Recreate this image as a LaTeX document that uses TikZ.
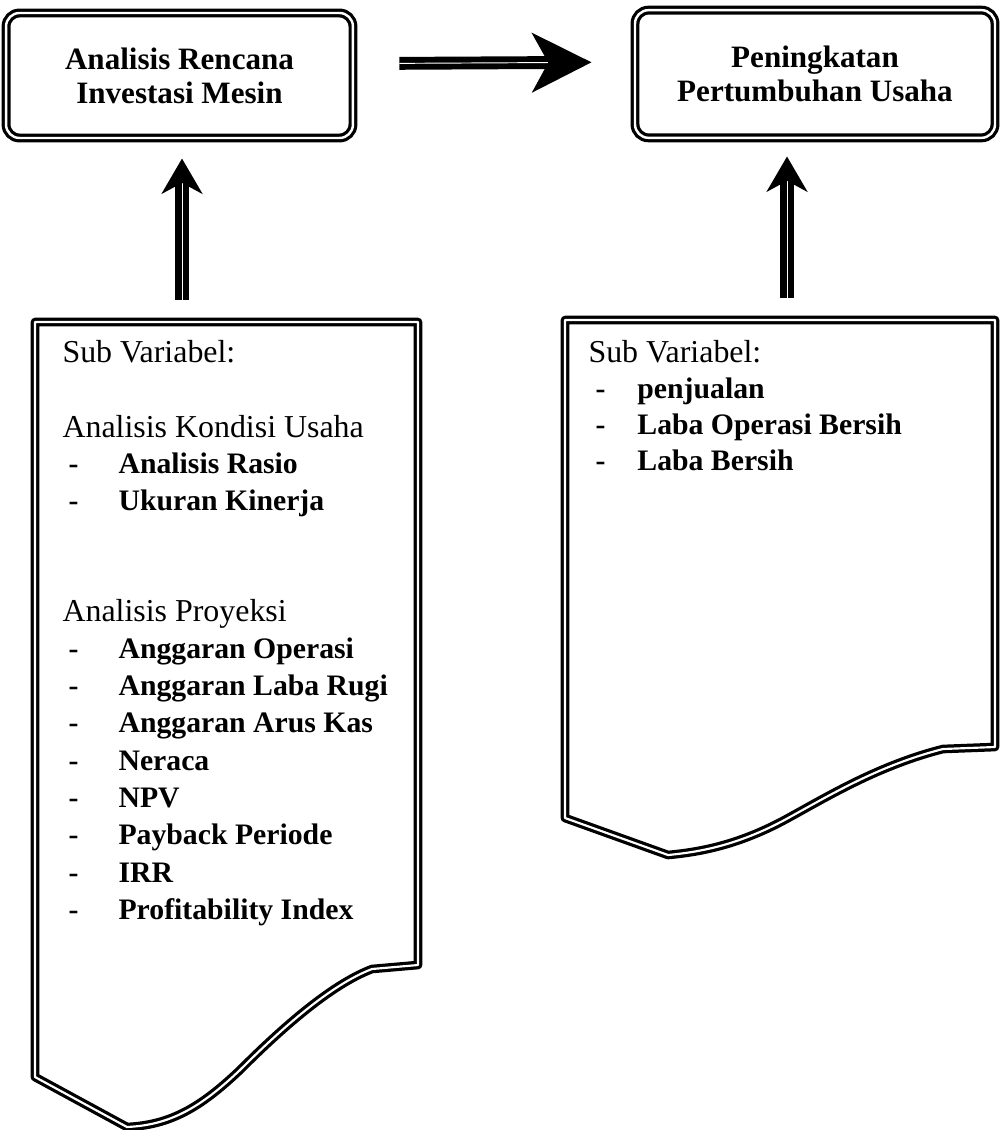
\documentclass[tikz,border=0pt]{standalone}
\usepackage{fontspec}
\setmainfont{Liberation Serif}
\usetikzlibrary{arrows.meta,positioning}

\begin{document}
\begin{tikzpicture}[x=0.013cm, y=-0.013cm,
 titlebox/.style={rectangle, rounded corners=5pt, draw, line width=1.2pt, double=white, double distance=0.9pt, align=center, font=\fontsize{11.5}{12.5}\selectfont\bfseries, inner sep=0pt},
 docline/.style={line width=1.2pt, double=white, double distance=0.8pt, line join=round},
 bigarr/.style={line width=2.2pt, double=white, double distance=0.35pt, -{Stealth[length=22pt, width=22pt, inset=6pt]}},
 uparr/.style={line width=2.3pt, double=white, double distance=0.35pt, -{Stealth[length=13pt, width=15pt, inset=4pt]}},
 head/.style={anchor=base west, inner sep=0pt, font=\fontsize{11.8}{13.7}\selectfont},
 itm/.style={anchor=base west, inner sep=0pt, font=\fontsize{11}{13.7}\selectfont\bfseries},
]
\useasboundingbox (0,0) rectangle (999,1130);

% top boxes
\node[titlebox, minimum width=4.51cm, minimum height=1.625cm] (rencana) at (179.5,75.5) {Analisis Rencana\\Investasi Mesin};
\node[titlebox, minimum width=4.68cm, minimum height=1.66cm] (tumbuh) at (815,74) {Peningkatan\\Pertumbuhan Usaha};
\draw[bigarr, shorten <=16.6pt, shorten >=15.5pt] ([yshift=4.4pt]rencana.east) -- ([yshift=4.4pt]tumbuh.west);

% left document
\coordinate (ldoc) at (182,322);
\draw[docline] (35,322) -- (418,322) -- (418,965) -- (372,969)
 .. controls (330,985) and (280,1030) .. (240,1070)
 .. controls (200,1108) and (170,1125) .. (127,1127) -- (35,1077) -- cycle;
\draw[uparr, shorten <=8pt, shorten >=7pt] (ldoc) -- (ldoc |- rencana.south);

\node[head] (subl) at (62,362) {Sub Variabel:};
\node[head] (kondisi) at (62,437) {Analisis Kondisi Usaha};
\foreach \txt [count=\i] in {Analisis Rasio, Ukuran Kinerja}
 \node[itm] (kond\i) at (68,437+36.5*\i) {\makebox[18.5pt][l]{-}\txt};
\node[head] (proyeksi) at (62,621) {Analisis Proyeksi};
\foreach \txt [count=\i] in {Anggaran Operasi, Anggaran Laba Rugi, Anggaran Arus Kas, Neraca, NPV, Payback Periode, IRR, Profitability Index}
 \node[itm] (proy\i) at (68,621+37.3*\i) {\makebox[18.5pt][l]{-}\txt};

% right document
\coordinate (rdoc) at (787,320);
\draw[docline] (565,320) -- (995,320) -- (995,747) -- (943,749)
 .. controls (880,765) and (830,795) .. (790,817)
 .. controls (740,845) and (700,852) .. (668,855) -- (565,818) -- cycle;
\draw[uparr, shorten <=8pt, shorten >=6.3pt] (rdoc) -- (rdoc |- tumbuh.south);

\node[head] (subr) at (588,362) {Sub Variabel:};
\foreach \txt [count=\i] in {penjualan, Laba Operasi Bersih, Laba Bersih}
 \node[itm] (hasil\i) at (595,362+36*\i) {\makebox[15.5pt][l]{-}\txt};
\end{tikzpicture}
\end{document}
